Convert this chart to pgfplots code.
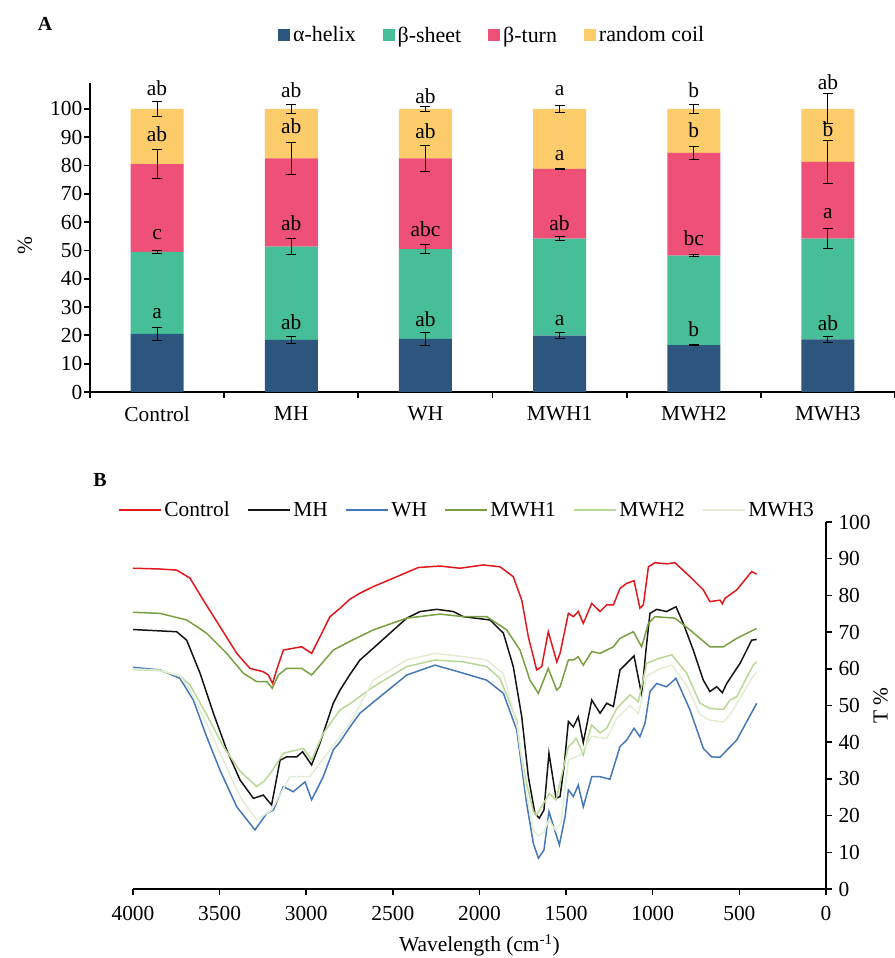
\documentclass[border=0pt]{standalone}
\usepackage{fontspec}
\setmainfont{Liberation Serif}
\usepackage{pgfplots}
\pgfplotsset{compat=1.18}
\usepackage{pgfplotstable}

\definecolor{ahelix}{RGB}{44,86,126}
\definecolor{bsheet}{RGB}{70,190,152}
\definecolor{bturn}{RGB}{238,80,120}
\definecolor{rcoil}{RGB}{253,204,106}
\definecolor{cred}{RGB}{225,25,30}
\definecolor{cblack}{RGB}{20,20,20}
\definecolor{cblue}{RGB}{70,120,185}
\definecolor{cmwh1}{RGB}{120,160,65}
\definecolor{cmwh2}{RGB}{185,215,150}
\definecolor{cmwh3}{RGB}{226,237,212}

% ---------- Panel A data ----------
\pgfplotstableread{
x a s t c
0 20.5 29.0 31.0 19.5
1 18.4 33.0 31.1 17.5
2 18.8 31.7 32.0 17.5
3 19.9 34.3 24.6 21.2
4 16.6 31.6 36.3 15.5
5 18.6 35.6 27.1 18.7
}\bars

\pgfplotstableread{
x y e
0 20.5 2.3
0 49.5 0.4
0 80.5 5.0
0 100 2.5
1 18.4 1.2
1 51.4 2.9
1 82.5 5.7
1 100 1.6
2 18.8 2.3
2 50.5 1.5
2 82.5 4.7
2 100 0.8
3 19.9 1.0
3 54.2 0.8
3 78.8 0.3
3 100 1.2
4 16.6 0.3
4 48.2 0.5
4 84.5 2.3
4 100 1.6
5 18.6 1.0
5 54.2 3.5
5 81.3 7.5
5 100 5.3
}\errs

\pgfplotstableread{
x y lab
0 107.3 ab
0 91.1 ab
0 55.6 c
0 27.6 a
1 106.5 ab
1 93.8 ab
1 59.6 ab
1 24.5 ab
2 104.6 ab
2 92.3 ab
2 57.4 abc
2 25.7 ab
3 106.4 a
3 83.6 a
3 59.6 ab
3 25.4 a
4 106.7 b
4 92.5 b
4 54.5 bc
4 22.1 b
5 109.3 ab
5 92.8 b
5 63.1 a
5 24.4 ab
}\labs

% ---------- Panel B data ----------
\pgfplotstableread{
w T
4000 87.4
3850 87.2
3748 86.9
3671 84.7
3594 78.7
3498 71.5
3401 64.2
3325 60.1
3248 59.2
3219 58.3
3194 56.0
3171 59.7
3132 65.1
3075 65.6
3026 66.0
2969 64.2
2921 68.7
2863 74.2
2805 76.5
2747 79.0
2690 80.6
2613 82.4
2497 84.7
2353 87.6
2228 88.0
2113 87.4
1978 88.3
1882 87.8
1805 85.1
1756 78.7
1718 68.7
1670 59.7
1641 60.6
1603 70.1
1554 61.9
1535 64.2
1487 75.1
1458 74.2
1430 75.6
1401 72.4
1352 77.8
1304 75.6
1266 77.4
1227 77.4
1189 81.9
1150 83.3
1108 84.0
1074 76.5
1054 77.4
1025 87.8
987 88.9
920 88.6
872 88.9
785 85.1
708 81.5
670 78.3
612 78.7
598 77.7
583 79.2
515 81.5
429 86.5
400 85.8
}\ctrl

\pgfplotstableread{
w T
4000 70.7
3748 70.1
3690 67.8
3613 58.8
3536 47.9
3459 37.9
3382 29.7
3305 24.7
3248 25.6
3200 22.9
3151 35.1
3113 36.0
3055 36.0
3021 37.4
2969 33.8
2921 39.7
2844 50.6
2805 54.2
2747 58.5
2690 62.4
2613 65.6
2517 69.7
2420 73.8
2343 75.6
2247 76.2
2151 75.6
2093 74.2
1939 73.3
1862 69.7
1805 60.6
1756 46.9
1718 30.6
1680 20.6
1655 19.3
1628 21.5
1599 37.0
1558 24.7
1535 25.2
1512 33.3
1487 45.6
1458 44.2
1430 46.9
1401 39.9
1352 51.5
1304 47.9
1266 50.6
1227 49.7
1189 59.7
1150 61.5
1108 63.5
1064 52.9
1039 65.1
1016 75.1
977 76.2
920 75.6
866 76.9
824 72.4
766 65.1
708 56.9
670 53.8
631 55.1
598 53.5
573 56.0
496 61.5
429 67.8
400 68.0
}\mh

\pgfplotstableread{
w T
4000 60.4
3844 59.7
3729 57.4
3652 51.5
3575 41.5
3498 32.4
3401 22.4
3296 16.1
3228 20.6
3190 21.5
3132 27.9
3075 26.5
3007 29.2
2969 24.3
2902 30.6
2844 37.9
2805 40.1
2747 44.2
2690 47.9
2574 52.4
2420 58.3
2257 61.0
2093 58.8
1958 56.9
1862 53.3
1785 43.3
1728 23.3
1689 12.4
1660 8.4
1628 10.6
1599 21.1
1539 12.0
1506 19.7
1487 27.0
1458 25.2
1430 28.3
1401 22.4
1352 30.6
1304 30.6
1247 29.9
1189 38.8
1150 40.6
1108 43.8
1074 41.5
1045 45.1
1016 53.8
977 56.0
920 55.1
866 57.4
785 48.8
708 38.3
660 36.0
612 35.9
515 40.6
400 50.6
}\wh

\pgfplotstableread{
w T
4000 75.4
3844 75.1
3690 73.3
3575 69.7
3459 64.2
3363 58.8
3286 56.5
3228 56.5
3196 54.7
3161 58.3
3113 60.1
3026 60.1
2969 58.3
2902 61.9
2844 65.1
2747 67.5
2613 70.6
2420 73.8
2228 74.9
2093 74.2
1958 74.2
1843 70.6
1766 65.1
1709 56.9
1660 53.3
1603 60.1
1554 54.2
1535 55.1
1487 62.4
1458 62.4
1430 63.3
1401 61.0
1352 64.7
1304 64.2
1227 66.0
1189 68.3
1112 70.1
1064 66.0
1025 72.4
987 74.2
872 73.8
785 70.6
670 66.0
592 66.0
515 68.3
400 71.0
}\mwha

\pgfplotstableread{
w T
4000 59.8
3844 59.5
3729 58.0
3671 55.6
3575 47.5
3478 38.8
3380 32.0
3286 27.9
3240 29.5
3200 32.0
3132 37.0
3016 38.3
2969 35.1
2902 42.4
2805 48.8
2747 50.5
2613 55.1
2420 60.6
2257 62.4
2093 61.9
1958 60.6
1882 57.4
1785 46.0
1766 38.0
1728 28.8
1689 21.1
1670 20.2
1597 26.0
1558 24.3
1487 38.8
1458 40.0
1443 41.1
1420 38.8
1401 36.5
1353 44.7
1304 42.5
1266 43.8
1208 49.2
1131 52.9
1083 51.0
1035 61.5
958 62.9
890 63.8
804 58.8
727 50.6
670 49.2
592 48.9
554 51.5
515 52.4
420 61.0
400 61.9
}\mwhb

\pgfplotstableread{
w T
4000 60.0
3844 59.6
3729 58.0
3671 54.2
3575 45.0
3478 35.1
3380 25.0
3286 18.8
3200 21.5
3094 30.6
2980 30.6
2863 37.9
2747 45.1
2613 56.9
2420 62.4
2257 64.2
2093 63.3
1958 62.4
1862 58.6
1785 45.0
1728 26.0
1689 16.0
1660 14.5
1628 15.5
1600 18.8
1560 16.0
1530 18.0
1487 35.1
1420 36.5
1353 41.6
1266 41.0
1208 46.5
1131 50.0
1083 47.8
1035 58.0
958 60.0
890 61.0
804 55.5
727 47.5
670 46.0
592 45.5
554 47.5
420 58.0
400 59.0
}\mwhc

\begin{document}
\begin{tikzpicture}[font=\fontsize{21.5}{25}\selectfont]
\path[use as bounding box] (0,0) rectangle (895bp,958bp);

\pgfplotsset{
  every outer x axis line/.append style={-},
  every outer y axis line/.append style={-},
  every inner x axis line/.append style={-},
  every inner y axis line/.append style={-},
}

% ================= Panel A =================
\begin{axis}[
  at={(90bp,566bp)}, anchor=south west, scale only axis,
  width=805bp, height=308.5bp,
  ybar stacked, bar width=53bp,
  xmin=-0.5, xmax=5.5, ymin=0, ymax=109,
  axis lines=left, axis line style={-, line width=2.2bp},
  tick align=outside, major tick length=6bp,
  tick style={black, line width=1.8bp},
  xtick={-0.5,0.5,...,5.5}, xticklabels={},
  extra x ticks={0,1,2,3,4,5},
  extra x tick labels={Control,MH,WH,MWH1,MWH2,MWH3},
  extra x tick style={major tick length=0pt, tick style={draw=none}},
  xticklabel style={yshift=-11bp},
  ytick={0,10,...,100},
  yticklabel style={inner xsep=1.5bp},
  /pgf/number format/assume math mode=true,
  ylabel={\%},
  every axis y label/.style={at={(axis description cs:-0.081,0.476)}, anchor=center, rotate=90},
  legend columns=4,
  legend style={at={(0.499,1.157)}, anchor=center, draw=none, fill=none,
    font=\fontsize{22}{26}\selectfont,
    nodes={inner xsep=1bp},
    /tikz/every odd column/.append style={column sep=2bp},
    /tikz/every even column/.append style={column sep=26bp}},
  legend image code/.code={\fill[#1,draw=none] (0bp,-6bp) rectangle (12bp,6bp);},
]
\addplot[fill=ahelix, draw=none] table[x=x, y=a]{\bars};
\addplot[fill=bsheet, draw=none] table[x=x, y=s]{\bars};
\addplot[fill=bturn, draw=none] table[x=x, y=t]{\bars};
\addplot[fill=rcoil, draw=none] table[x=x, y=c]{\bars};
\legend{α-helix,β-sheet,β-turn,random coil}
\end{axis}

% overlay: error bars and significance letters
\begin{axis}[
  at={(90bp,566bp)}, anchor=south west, scale only axis,
  width=805bp, height=308.5bp,
  xmin=-0.5, xmax=5.5, ymin=0, ymax=109,
  hide axis, clip=false,
]
\addplot[draw=none, error bars/.cd, y dir=both, y explicit,
  error bar style={draw=black, line width=1bp},
  error mark options={draw=black, mark size=5bp, line width=1bp, rotate=90}]
  table[x=x, y=y, y error=e]{\errs};
\addplot[only marks, mark=*, mark size=0pt, mark options={draw=none, fill=none},
  point meta=explicit symbolic, nodes near coords,
  every node near coord/.append style={anchor=center, inner sep=0pt, text=black}]
  table[x=x, y=y, meta=lab]{\labs};
\end{axis}

\node[font=\fontsize{20}{24}\selectfont\bfseries] at (45bp,934bp) {A};
\node[font=\fontsize{20}{24}\selectfont\bfseries] at (100bp,478bp) {B};

% ================= Panel B =================
\begin{axis}[
  at={(133bp,69bp)}, anchor=south west, scale only axis,
  width=693bp, height=367bp,
  xmin=0, xmax=4000, x dir=reverse, ymin=0, ymax=100,
  axis x line=bottom, axis y line=right,
  axis line style={-, line width=2.2bp},
  tick align=outside, major tick length=6bp,
  tick style={black, line width=1.5bp},
  xtick={0,500,...,4000}, ytick={0,10,...,100},
  scaled x ticks=false,
  /pgf/number format/1000 sep={},
  /pgf/number format/assume math mode=true,
  xticklabel style={yshift=-8bp},
  yticklabel style={xshift=3bp},
  xlabel={Wavelength (cm\textsuperscript{-1})},
  every axis x label/.style={at={(axis description cs:0.5,-0.153)}, anchor=center},
  ylabel={T \%},
  every axis y label/.style={at={(axis description cs:1.079,0.5)}, anchor=center, rotate=90},
  legend columns=6,
  legend style={at={(0.481,1.033)}, anchor=center, draw=none, fill=none,
    font=\fontsize{21.5}{25}\selectfont,
    nodes={inner xsep=1bp},
    /tikz/every odd column/.append style={column sep=2bp},
    /tikz/every even column/.append style={column sep=16bp}},
  legend image code/.code={\draw[#1] (0bp,0bp) -- (42bp,0bp);},
]
\addplot[cred, line width=1.5bp] table[x=w, y=T]{\ctrl};
\addplot[cblack, line width=1.5bp] table[x=w, y=T]{\mh};
\addplot[cblue, line width=1.5bp] table[x=w, y=T]{\wh};
\addplot[cmwh1, line width=1.5bp] table[x=w, y=T]{\mwha};
\addplot[cmwh2, line width=1.5bp] table[x=w, y=T]{\mwhb};
\addplot[cmwh3, line width=1.5bp] table[x=w, y=T]{\mwhc};
\legend{Control,MH,WH,MWH1,MWH2,MWH3}
\end{axis}
\end{tikzpicture}
\end{document}
